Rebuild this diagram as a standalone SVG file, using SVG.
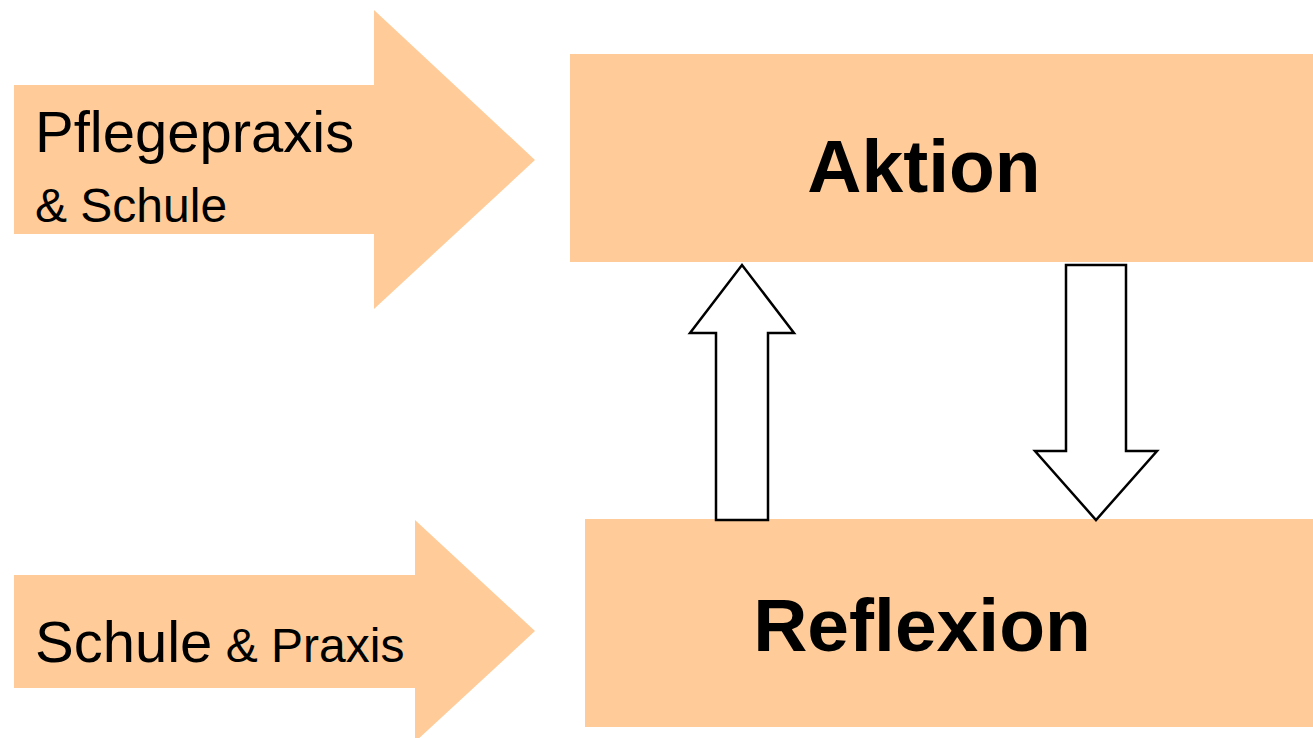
<svg xmlns="http://www.w3.org/2000/svg" width="1313" height="738" viewBox="0 0 1313 738">
  <style>
    .peach { fill: #FFCC99; stroke: none; }
    .hollow { fill: #FFFFFF; stroke: #000000; stroke-width: 2.5; stroke-linejoin: miter; }
    .lbl { font-family: "Liberation Sans", Arial, sans-serif; fill: #000000; }
    .big { font-size: 58px; }
    .small { font-size: 48px; }
    .title { font-family: "Liberation Sans", Arial, sans-serif; font-weight: bold; font-size: 75px; fill: #000000; text-anchor: middle; }
  </style>
  <rect width="1313" height="738" fill="#FFFFFF"/>

  <!-- input arrow: Pflegepraxis & Schule -->
  <g id="input-praxis">
    <polygon class="peach" points="14,85 374,85 374,10 535,160 374,309 374,234 14,234"/>
    <text class="lbl big" x="35" y="152">Pflegepraxis</text>
    <text class="lbl small" x="35" y="222">&amp; Schule</text>
  </g>

  <!-- input arrow: Schule & Praxis -->
  <g id="input-schule">
    <polygon class="peach" points="14,575 415,575 415,520 535,631 415,742 415,688 14,688"/>
    <text class="lbl" x="35" y="662"><tspan class="big">Schule</tspan><tspan class="small"> &amp; Praxis</tspan></text>
  </g>

  <!-- Aktion box -->
  <g id="aktion">
    <rect class="peach" x="570" y="54" width="743" height="208"/>
    <text class="title" x="924" y="192">Aktion</text>
  </g>

  <!-- Reflexion box -->
  <g id="reflexion">
    <rect class="peach" x="585" y="519" width="728" height="208"/>
    <text class="title" x="922" y="651">Reflexion</text>
  </g>

  <!-- block arrows between Aktion and Reflexion -->
  <g id="connectors">
    <polygon class="hollow" points="716,520 716,333 690,333 742,265 794,333 768,333 768,520"/>
    <polygon class="hollow" points="1066,265 1126,265 1126,451 1157,451 1096,520 1035,451 1066,451"/>
  </g>
</svg>
